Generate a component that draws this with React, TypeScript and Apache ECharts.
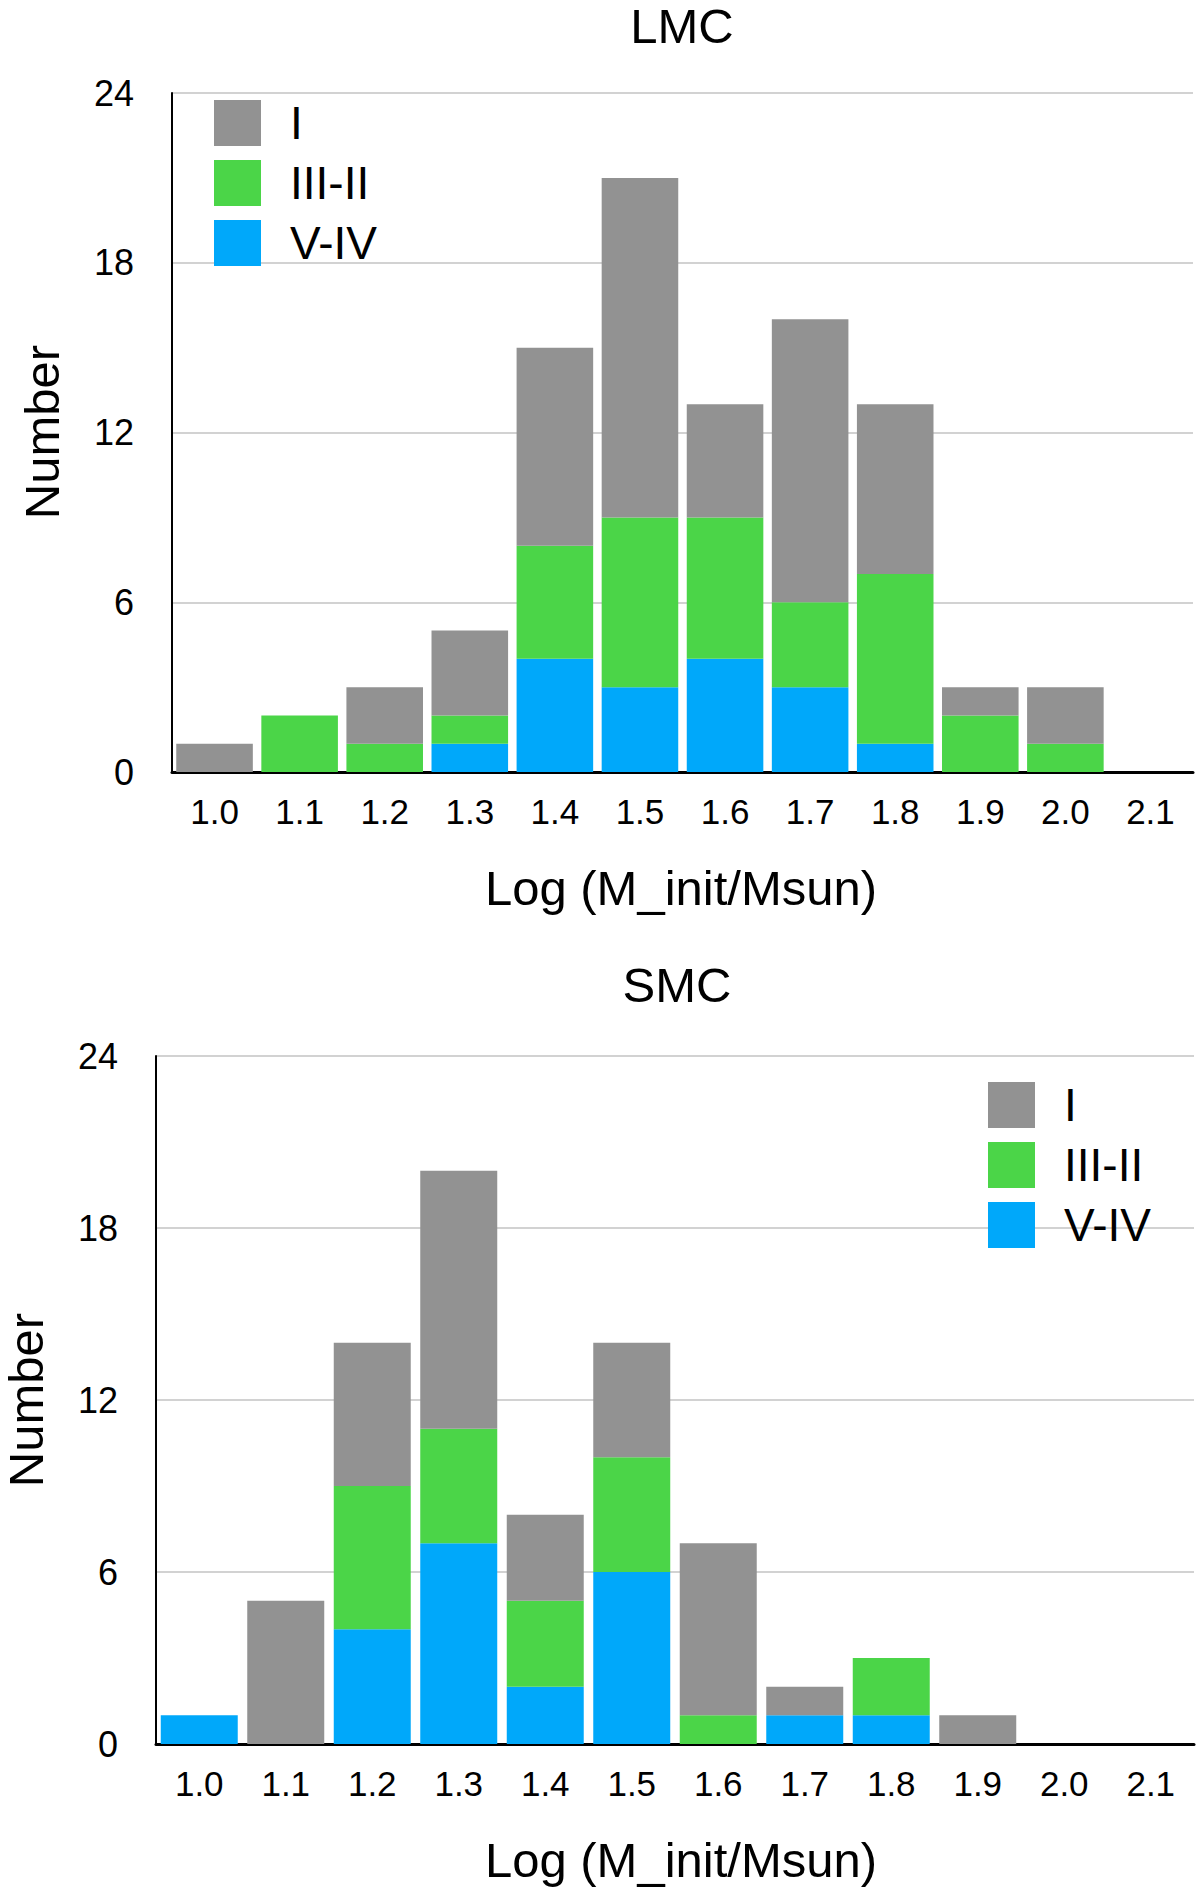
import React, { useEffect, useRef } from "react";
import * as echarts from "echarts";

const categories = ["1.0", "1.1", "1.2", "1.3", "1.4", "1.5", "1.6", "1.7", "1.8", "1.9", "2.0", "2.1"];
const seriesNames = ["I", "III-II", "V-IV"];
const yTicks = [0, 6, 12, 18, 24];

// LMC counts per luminosity class
const lmcI = [1, 0, 2, 3, 7, 12, 4, 10, 6, 1, 2, 0];
const lmcIII = [0, 2, 1, 1, 4, 6, 5, 3, 6, 2, 1, 0];
const lmcV = [0, 0, 0, 1, 4, 3, 4, 3, 1, 0, 0, 0];

// SMC counts per luminosity class
const smcI = [0, 5, 5, 9, 3, 4, 6, 1, 0, 1, 0, 0];
const smcIII = [0, 0, 5, 4, 3, 4, 1, 0, 2, 0, 0, 0];
const smcV = [1, 0, 4, 7, 2, 6, 0, 1, 1, 0, 0, 0];

const FONT = "'Liberation Sans', Arial, Helvetica, sans-serif";
const colors: Record<string, string> = { I: "#929292", "III-II": "#4BD548", "V-IV": "#00A8FA" };

function makeAxes(idx: number) {
  const x = {
    type: "category",
    gridIndex: idx,
    data: categories,
    axisLine: { show: true, lineStyle: { color: "#000", width: 3 } },
    axisTick: { show: false },
    axisLabel: { color: "#000", fontSize: 35, fontFamily: FONT, margin: 22 },
    splitLine: { show: false },
  };
  const y = {
    type: "value",
    gridIndex: idx,
    min: yTicks[0],
    max: yTicks[yTicks.length - 1],
    interval: yTicks[1] - yTicks[0],
    axisLine: { show: true, lineStyle: { color: "#000", width: 2 } },
    axisTick: { show: false },
    axisLabel: { color: "#000", fontSize: 36, fontFamily: FONT, margin: 38 },
    splitLine: { show: true, lineStyle: { color: "#d2d2d2", width: 2 } },
  };
  return { x, y };
}

function makeSeries(idx: number, vI: number[], vIII: number[], vV: number[], gap: string) {
  const stack = "s" + idx;
  const mk = (name: string, data: number[]) => ({
    type: "bar",
    name,
    xAxisIndex: idx,
    yAxisIndex: idx,
    stack,
    data,
    barCategoryGap: gap,
    itemStyle: { color: colors[name] },
    emphasis: { disabled: true },
  });
  return [mk("V-IV", vV), mk("III-II", vIII), mk("I", vI)];
}

function makeLegend(left: number, top: number) {
  return {
    orient: "vertical",
    left,
    top,
    padding: 0,
    data: seriesNames,
    icon: "rect",
    itemWidth: 47,
    itemHeight: 46,
    itemGap: 14,
    selectedMode: false,
    textStyle: { fontSize: 46, fontFamily: FONT, color: "#000", lineHeight: 46, padding: [0, 0, 0, 24] },
  };
}

function txt(text: string, x: number, y: number, fontSize: number, rotation = 0) {
  return {
    type: "text",
    x,
    y,
    rotation,
    style: {
      text,
      fontSize,
      lineHeight: 40,
      fontFamily: FONT,
      fill: "#000",
      align: "center",
      verticalAlign: "middle",
      textAlign: "center",
      textVerticalAlign: "middle",
    },
  };
}

export default function App() {
  const ref = useRef<HTMLDivElement>(null);
  useEffect(() => {
    if (!ref.current) return;
    const chart = echarts.init(ref.current, null, { renderer: "svg" });
    const a0 = makeAxes(0);
    const a1 = makeAxes(1);
    chart.setOption({
      animation: false,
      backgroundColor: "#fff",
      grid: [
        { left: 172, top: 93, width: 1021, height: 679 },
        { left: 156, top: 1056, width: 1038, height: 688 },
      ],
      xAxis: [a0.x, a1.x],
      yAxis: [a0.y, a1.y],
      legend: [makeLegend(214, 100), makeLegend(988, 1082)],
      series: [
        ...makeSeries(0, lmcI, lmcIII, lmcV, "10%"),
        ...makeSeries(1, smcI, smcIII, smcV, "11%"),
      ],
      graphic: [
        txt("LMC", 682, 26, 49),
        txt("SMC", 677, 985, 49),
        txt("Log (M_init/Msun)", 681, 888, 49),
        txt("Log (M_init/Msun)", 681, 1860, 49),
        txt("Number", 42, 432, 49, Math.PI / 2),
        txt("Number", 26, 1400, 49, Math.PI / 2),
      ],
    });
    return () => chart.dispose();
  }, []);
  return (
    <div
      ref={ref}
      style={{ position: "absolute", left: 0, top: 0, width: 1200, height: 1894, background: "#fff" }}
    />
  );
}
